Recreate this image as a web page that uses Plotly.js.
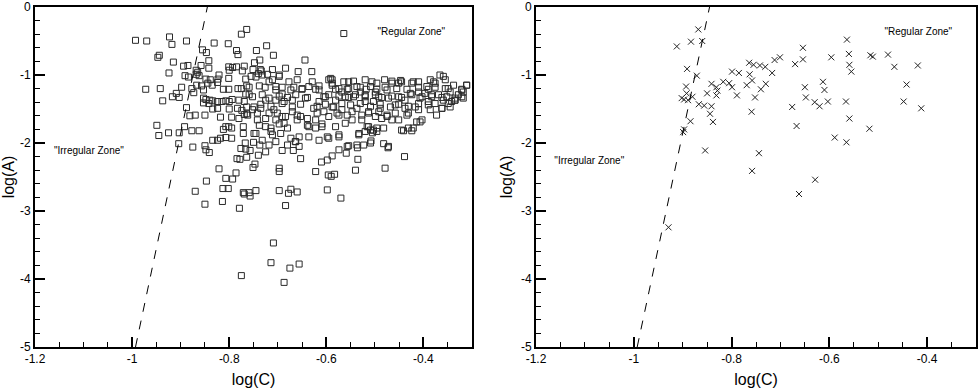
<!DOCTYPE html>
<html>
<head>
<meta charset="utf-8">
<script src="https://cdn.plot.ly/plotly-3.0.1.min.js"></script>
</head>
<body style="margin:0;background:#fff">
<div id="chart" style="width:980px;height:388px"></div>
<script>
// [log(C), log(A)] pairs (squares)
const squarePoints = [
  [-0.993,-0.49],[-0.970,-0.50],[-0.923,-0.44],[-0.918,-0.55],[-0.888,-0.50],[-0.947,-0.74],[-0.944,-0.71],[-0.915,-0.81],
  [-0.924,-0.97],[-0.972,-1.21],[-0.942,-1.20],[-0.937,-1.38],[-0.917,-1.32],[-0.909,-1.27],[-0.903,-1.33],[-0.898,-1.18],
  [-0.949,-1.74],[-0.945,-1.89],[-0.925,-1.85],[-0.903,-1.85],[-0.904,-2.01],[-0.892,-1.76],[-0.888,-1.48],[-0.881,-1.60],
  [-0.870,-1.59],[-0.850,-1.59],[-0.877,-1.82],[-0.875,-2.06],[-0.862,-1.82],[-0.850,-2.04],[-0.847,-2.56],[-0.821,-2.38],
  [-0.807,-2.52],[-0.786,-2.44],[-0.870,-2.71],[-0.813,-2.67],[-0.802,-2.67],[-0.771,-2.73],[-0.831,-0.53],[-0.802,-0.54],
  [-0.855,-0.63],[-0.847,-0.67],[-0.785,-0.64],[-0.782,-0.70],[-0.775,-0.40],[-0.764,-0.33],[-0.894,-0.87],[-0.885,-0.86],
  [-0.868,-0.93],[-0.858,-0.86],[-0.842,-0.79],[-0.842,-0.90],[-0.891,-1.01],[-0.884,-1.03],[-0.868,-0.99],[-0.862,-1.01],
  [-0.865,-0.96],[-0.877,-1.20],[-0.873,-1.26],[-0.867,-1.15],[-0.857,-1.16],[-0.853,-1.22],[-0.848,-1.06],[-0.839,-1.07],
  [-0.844,-1.12],[-0.835,-1.15],[-0.823,-1.06],[-0.821,-1.00],[-0.824,-1.11],[-0.812,-1.21],[-0.801,-1.21],[-0.801,-1.05],
  [-0.800,-0.93],[-0.793,-0.89],[-0.785,-0.88],[-0.801,-0.88],[-0.773,-0.94],[-0.766,-1.06],[-0.782,-1.20],[-0.775,-1.20],
  [-0.764,-1.16],[-0.766,-1.28],[-0.853,-1.34],[-0.848,-1.36],[-0.840,-1.37],[-0.853,-1.41],[-0.842,-1.42],[-0.834,-1.38],
  [-0.824,-1.39],[-0.815,-1.39],[-0.807,-1.38],[-0.800,-1.39],[-0.794,-1.36],[-0.780,-1.37],[-0.769,-1.39],[-0.764,-1.47],
  [-0.834,-1.50],[-0.824,-1.49],[-0.800,-1.50],[-0.783,-1.49],[-0.774,-1.52],[-0.769,-1.58],[-0.764,-1.57],[-0.818,-1.62],
  [-0.795,-1.62],[-0.780,-1.64],[-0.807,-1.76],[-0.801,-1.76],[-0.795,-1.78],[-0.771,-1.76],[-0.771,-1.86],[-0.812,-1.80],
  [-0.834,-1.96],[-0.824,-1.96],[-0.818,-1.93],[-0.807,-1.92],[-0.795,-1.93],[-0.767,-2.00],[-0.776,-2.08],[-0.766,-2.09],
  [-0.848,-2.10],[-0.841,-2.14],[-0.784,-2.23],[-0.778,-2.24],
  [-0.564,-0.39],[-0.723,-0.57],[-0.744,-0.64],[-0.709,-0.71],[-0.737,-0.78],[-0.748,-0.82],[-0.644,-0.78],[-0.769,-0.87],
  [-0.751,-0.92],[-0.736,-0.92],[-0.711,-0.92],[-0.684,-0.90],[-0.658,-0.95],[-0.630,-0.95],[-0.697,-1.00],[-0.745,-1.03],
  [-0.732,-1.00],[-0.718,-1.10],[-0.711,-1.07],[-0.677,-1.10],[-0.660,-1.07],[-0.629,-1.10],[-0.595,-1.07],[-0.588,-1.12],
  [-0.564,-1.10],[-0.544,-1.09],[-0.506,-1.10],[-0.465,-1.09],[-0.447,-1.08],[-0.421,-1.10],[-0.366,-1.00],[-0.355,-1.07],
  [-0.379,-1.10],[-0.759,-1.18],[-0.738,-1.16],[-0.726,-1.18],[-0.704,-1.17],[-0.691,-1.18],[-0.667,-1.18],[-0.650,-1.21],
  [-0.622,-1.21],[-0.615,-1.16],[-0.581,-1.21],[-0.557,-1.21],[-0.530,-1.18],[-0.518,-1.21],[-0.496,-1.21],[-0.479,-1.18],
  [-0.455,-1.20],[-0.434,-1.21],[-0.410,-1.18],[-0.390,-1.21],[-0.376,-1.18],[-0.349,-1.20],[-0.321,-1.21],[-0.311,-1.15],
  [-0.752,-1.32],[-0.732,-1.29],[-0.718,-1.34],[-0.697,-1.31],[-0.680,-1.33],[-0.663,-1.29],[-0.639,-1.33],[-0.605,-1.32],
  [-0.595,-1.29],[-0.574,-1.31],[-0.554,-1.33],[-0.540,-1.29],[-0.520,-1.32],[-0.499,-1.29],[-0.486,-1.33],[-0.465,-1.31],
  [-0.445,-1.33],[-0.424,-1.29],[-0.403,-1.32],[-0.383,-1.29],[-0.362,-1.33],[-0.335,-1.34],[-0.321,-1.32],
  [-0.749,-1.47],[-0.735,-1.43],[-0.714,-1.46],[-0.691,-1.42],[-0.670,-1.47],[-0.653,-1.43],[-0.619,-1.46],[-0.602,-1.43],
  [-0.585,-1.47],[-0.568,-1.42],[-0.550,-1.44],[-0.530,-1.42],[-0.509,-1.46],[-0.489,-1.43],[-0.468,-1.47],[-0.451,-1.43],
  [-0.431,-1.46],[-0.410,-1.42],[-0.390,-1.44],[-0.362,-1.49],[-0.349,-1.42],[-0.335,-1.37],[-0.318,-1.34],
  [-0.762,-1.59],[-0.742,-1.56],[-0.725,-1.64],[-0.701,-1.56],[-0.684,-1.61],[-0.660,-1.59],[-0.639,-1.64],[-0.619,-1.56],
  [-0.595,-1.61],[-0.574,-1.59],[-0.547,-1.54],[-0.527,-1.59],[-0.513,-1.56],[-0.492,-1.54],[-0.475,-1.61],[-0.458,-1.56],
  [-0.434,-1.59],[-0.414,-1.69],[-0.407,-1.69],
  [-0.738,-1.74],[-0.714,-1.78],[-0.697,-1.72],[-0.680,-1.78],[-0.639,-1.74],[-0.622,-1.78],[-0.609,-1.72],[-0.581,-1.76],
  [-0.561,-1.71],[-0.513,-1.76],[-0.496,-1.78],[-0.482,-1.78],[-0.445,-1.81],[-0.424,-1.82],
  [-0.749,-1.86],[-0.732,-1.96],[-0.711,-1.88],[-0.673,-1.93],[-0.663,-1.98],[-0.636,-1.91],[-0.615,-1.96],[-0.595,-1.93],
  [-0.574,-1.91],[-0.557,-2.05],[-0.537,-2.03],[-0.523,-2.03],[-0.509,-2.00],[-0.482,-2.01],[-0.472,-2.05],
  [-0.697,-2.37],[-0.697,-2.42],[-0.622,-2.42],
  [-0.759,-2.73],[-0.745,-2.70],[-0.697,-2.70],[-0.673,-2.68],[-0.660,-2.72],
  [-0.769,-2.75],[-0.757,-2.78],[-0.678,-2.74],[-0.570,-2.81],[-0.779,-2.96],[-0.684,-2.92],[-0.709,-3.47],[-0.714,-3.76],
  [-0.675,-3.84],[-0.656,-3.78],[-0.775,-3.95],[-0.687,-4.05],[-0.850,-2.90],[-0.814,-2.86],
  [-0.533,-1.88],[-0.520,-1.83],[-0.505,-1.85],[-0.496,-1.83],[-0.441,-1.82],[-0.554,-2.04],[-0.536,-2.07],[-0.508,-1.97],
  [-0.473,-2.07],[-0.439,-2.20],[-0.535,-2.24],[-0.479,-2.37],[-0.540,-2.40],[-0.588,-2.19],[-0.598,-2.25],[-0.610,-2.28],
  [-0.574,-2.10],[-0.559,-2.15],[-0.596,-2.47],[-0.590,-2.49],[-0.583,-2.46],[-0.598,-2.69],[-0.653,-2.23],
  [-0.359,-1.02],[-0.311,-1.15],[-0.318,-1.25],[-0.335,-1.37],[-0.355,-1.20],[-0.345,-1.25],[-0.376,-1.12],[-0.393,-1.17],
  [-0.410,-1.25],[-0.424,-1.12],[-0.445,-1.10],[-0.465,-1.12],[-0.480,-1.07],[-0.475,-1.22],[-0.499,-1.25],[-0.520,-1.29],
  [-0.509,-1.17],[-0.537,-1.17],[-0.554,-1.20],[-0.574,-1.20],[-0.591,-1.05],[-0.588,-1.15],[-0.615,-1.22],[-0.636,-1.17],
  [-0.390,-1.39],[-0.376,-1.42],[-0.362,-1.49],[-0.359,-1.37],[-0.417,-1.47],[-0.438,-1.49],[-0.458,-1.44],[-0.451,-1.66],
  [-0.465,-1.66],[-0.489,-1.49],[-0.513,-1.54],[-0.527,-1.66],[-0.516,-1.76],[-0.503,-1.81],[-0.509,-1.81],[-0.533,-1.86],
  [-0.547,-1.66],[-0.557,-1.59],[-0.568,-1.51],[-0.588,-1.47],[-0.605,-1.54],[-0.622,-1.66],[-0.636,-1.76],[-0.609,-1.76],
  [-0.598,-1.91],[-0.574,-1.88],[-0.431,-1.78],[-0.421,-1.78],[-0.403,-1.66],[-0.486,-1.64],
  [-0.757,-2.11],[-0.764,-2.21],[-0.750,-1.99],[-0.737,-2.03],[-0.740,-2.18],[-0.747,-2.31],[-0.751,-2.36],[-0.725,-2.13],
  [-0.718,-2.03],[-0.704,-1.98],[-0.691,-2.11],[-0.680,-2.03],[-0.668,-2.11],[-0.664,-1.98],[-0.656,-2.05],[-0.793,-2.53],
  [-0.734,-0.94],[-0.721,-0.99],[-0.740,-0.98],[-0.755,-1.02],[-0.697,-1.02],[-0.650,-1.20],[-0.704,-1.22],[-0.691,-1.28],
  [-0.673,-1.22],[-0.759,-1.29],[-0.725,-1.37],[-0.704,-1.37],[-0.687,-1.39],[-0.670,-1.37],[-0.752,-1.51],[-0.735,-1.49],
  [-0.718,-1.56],[-0.708,-1.51],[-0.691,-1.61],[-0.670,-1.54],[-0.653,-1.61],[-0.742,-1.66],[-0.725,-1.76],[-0.704,-1.66],
  [-0.687,-1.71],[-0.660,-1.66],[-0.745,-1.86],[-0.714,-1.83],[-0.694,-1.86],[-0.656,-1.91],
  [-0.568,-1.25],[-0.561,-1.32],[-0.544,-1.32],[-0.530,-1.25],[-0.520,-1.39],[-0.503,-1.39],[-0.492,-1.32],[-0.472,-1.34],
  [-0.451,-1.32],[-0.438,-1.37],[-0.427,-1.27],[-0.407,-1.34],[-0.397,-1.27],[-0.383,-1.32],[-0.369,-1.29],[-0.352,-1.32],
  [-0.342,-1.39],[-0.328,-1.29],[-0.581,-1.37],[-0.602,-1.32],[-0.615,-1.39],[-0.643,-1.34],[-0.626,-1.49],[-0.578,-1.56],
  [-0.537,-1.49],[-0.499,-1.61],[-0.475,-1.59],[-0.431,-1.56],[-0.410,-1.51],[-0.386,-1.51],[-0.373,-1.59],[-0.345,-1.47],
  [-0.588,-1.07],[-0.554,-1.10],[-0.520,-1.07],[-0.496,-1.12],[-0.451,-1.12],[-0.410,-1.10],[-0.386,-1.07],[-0.338,-1.15],
  [-0.321,-1.22]
];

// [log(C), log(A)] pairs (crosses)
const crossPoints = [
  [-0.912,-0.58],[-0.868,-0.33],[-0.883,-0.51],[-0.860,-0.50],[-0.891,-0.91],[-0.871,-1.01],[-0.893,-1.17],[-0.892,-1.27],
  [-0.902,-1.34],[-0.897,-1.36],[-0.889,-1.37],[-0.880,-1.32],[-0.867,-1.43],[-0.856,-1.45],[-0.841,-1.46],[-0.884,-1.68],
  [-0.897,-1.80],[-0.899,-1.84],[-0.844,-1.57],[-0.838,-1.69],[-0.841,-1.13],[-0.850,-1.27],[-0.831,-1.18],[-0.831,-1.30],
  [-0.829,-1.23],[-0.817,-1.10],[-0.805,-1.12],[-0.799,-1.18],[-0.789,-1.30],[-0.799,-0.95],[-0.785,-0.97],[-0.854,-2.11],
  [-0.764,-0.82],[-0.755,-0.85],[-0.742,-0.86],[-0.731,-0.88],[-0.717,-0.97],[-0.763,-0.99],[-0.758,-1.08],[-0.769,-1.15],
  [-0.730,-1.13],[-0.740,-1.21],[-0.752,-1.33],[-0.759,-1.54],[-0.712,-0.78],[-0.701,-0.74],[-0.670,-0.84],[-0.654,-0.77],
  [-0.654,-0.60],[-0.650,-1.18],[-0.648,-1.33],[-0.676,-1.47],[-0.667,-1.75],[-0.630,-1.40],[-0.620,-1.46],[-0.613,-1.10],
  [-0.610,-1.22],[-0.603,-1.39],[-0.596,-0.74],[-0.589,-1.92],[-0.565,-1.99],[-0.566,-1.39],[-0.560,-0.69],[-0.564,-0.48],
  [-0.559,-0.85],[-0.555,-0.95],[-0.559,-1.64],[-0.518,-1.79],[-0.516,-0.71],[-0.511,-0.73],[-0.480,-0.70],[-0.467,-0.88],
  [-0.419,-0.86],[-0.442,-1.14],[-0.448,-1.39],[-0.412,-1.49],[-0.744,-2.15],[-0.758,-2.41],[-0.629,-2.54],[-0.662,-2.75],
  [-0.929,-3.24]
];

// boundary between the zones (dashed line)
const boundaryC = [-0.993, -0.845];
const boundaryA = [-5, 0];

const zoneLabels = ['"Irregular Zone"', '"Regular Zone"'];
const leftLabelC = [-1.089, -0.425];
const leftLabelA = [-2.13, -0.38];
const rightLabelC = [-1.091, -0.418];
const rightLabelA = [-2.27, -0.38];

const xTicks = [-1.2, -1, -0.8, -0.6, -0.4];
const xTickText = ['-1.2', '-1', '-0.8', '-0.6', '-0.4'];
const yTicks = [0, -1, -2, -3, -4, -5];
const yTickText = ['0', '-1', '-2', '-3', '-4', '-5'];

const fontFam = 'Liberation Sans, Arial, sans-serif';
const labelFont = {family: 'Liberation Sans Narrow, Liberation Sans, Arial, sans-serif', size: 10, color: 'black'};

const traces = [
  {
    x: squarePoints.map(p => p[0]), y: squarePoints.map(p => p[1]),
    mode: 'markers', type: 'scatter',
    marker: {symbol: 'square-open', size: 6, color: '#2a2a2a'},
    xaxis: 'x', yaxis: 'y'
  },
  {
    x: boundaryC, y: boundaryA, mode: 'lines', type: 'scatter',
    line: {color: 'black', width: 1, dash: 'dash'},
    xaxis: 'x', yaxis: 'y'
  },
  {
    x: leftLabelC, y: leftLabelA, text: zoneLabels, mode: 'text', type: 'scatter',
    textposition: 'middle center', textfont: labelFont,
    xaxis: 'x', yaxis: 'y'
  },
  {
    x: crossPoints.map(p => p[0]), y: crossPoints.map(p => p[1]),
    mode: 'markers', type: 'scatter',
    marker: {symbol: 'x-thin-open', size: 6, color: '#222', line: {width: 1, color: '#222'}},
    xaxis: 'x2', yaxis: 'y2'
  },
  {
    x: boundaryC, y: boundaryA, mode: 'lines', type: 'scatter',
    line: {color: 'black', width: 1, dash: 'dash'},
    xaxis: 'x2', yaxis: 'y2'
  },
  {
    x: rightLabelC, y: rightLabelA, text: zoneLabels, mode: 'text', type: 'scatter',
    textposition: 'middle center', textfont: labelFont,
    xaxis: 'x2', yaxis: 'y2'
  }
];

function ax(extra) {
  return Object.assign({
    ticks: 'inside', ticklen: 10, tickwidth: 2, tickcolor: '#000',
    showline: true, linewidth: 2, linecolor: '#000', mirror: true,
    showgrid: false, zeroline: false, layer: 'above traces',
    tickfont: {family: fontFam, size: 12, color: '#000'}
  }, extra);
}
function xAxis(domain, anchor) {
  return ax({
    domain: domain, anchor: anchor, range: [-1.2, -0.3],
    tickvals: xTicks, ticktext: xTickText,
    minor: {dtick: 0.05, ticks: 'inside', ticklen: 5, tickwidth: 1, tickcolor: '#000'},
    title: {text: 'log(C)', font: {family: fontFam, size: 16, color: '#000'}, standoff: 8}
  });
}
function yAxis(anchor) {
  return ax({
    domain: [0, 1], anchor: anchor, range: [-5, 0],
    tickvals: yTicks, ticktext: yTickText,
    minor: {dtick: 0.2, ticks: 'inside', ticklen: 5, tickwidth: 1, tickcolor: '#000'},
    title: {text: 'log(A)', font: {family: fontFam, size: 16, color: '#000'}, standoff: 4}
  });
}

const layout = {
  width: 980, height: 388,
  margin: {l: 0, r: 0, t: 7, b: 41},
  showlegend: false,
  xaxis: xAxis([35 / 980, 472 / 980], 'y'),
  yaxis: yAxis('x'),
  xaxis2: xAxis([536 / 980, 976 / 980], 'y2'),
  yaxis2: yAxis('x2')
};

Plotly.newPlot('chart', traces, layout, {staticPlot: true});
</script>
</body>
</html>
